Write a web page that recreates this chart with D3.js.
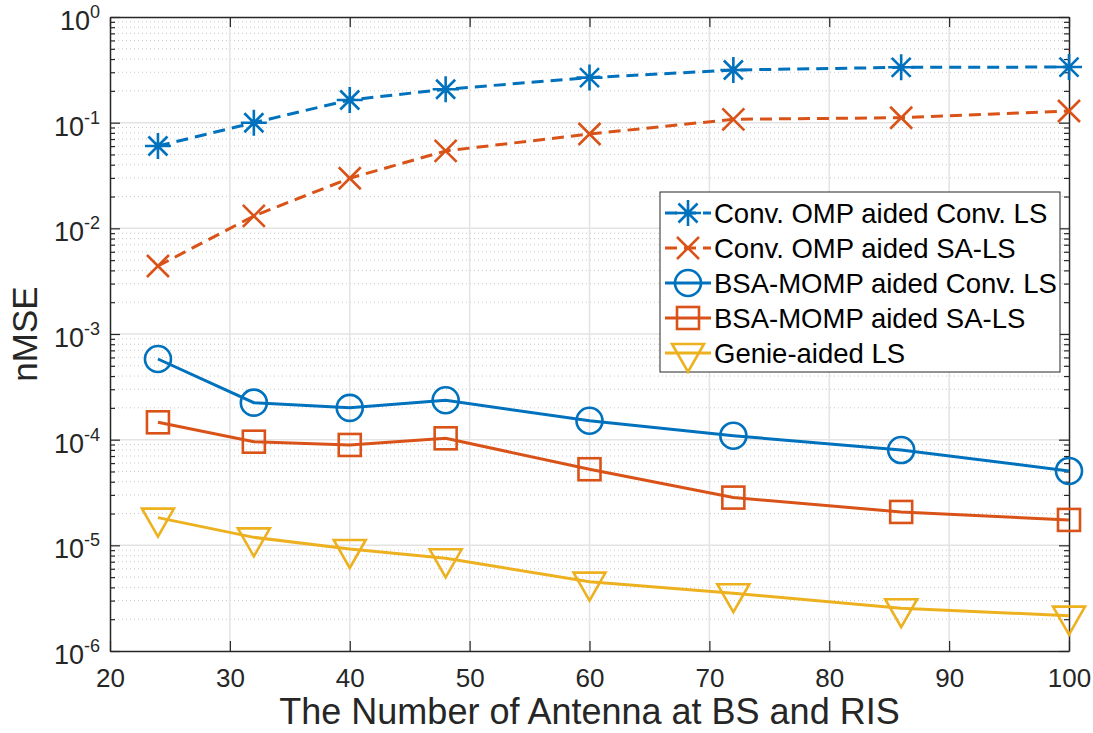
<!DOCTYPE html>
<html>
<head>
<meta charset="utf-8">
<script src="https://cdn.jsdelivr.net/npm/d3@7"></script>
<style>
  html, body { margin: 0; padding: 0; background: #fff; }
  svg { display: block; font-family: "Liberation Sans", Arial, Helvetica, sans-serif; }
</style>
</head>
<body>
<svg id="chart" width="1093" height="733"></svg>
<script>
// Number of antennas at the BS and RIS
const antennas = [24, 32, 40, 48, 60, 72, 86, 100];

// nMSE of each estimator
const convOmpConvLs = [0.0601, 0.0999, 0.164, 0.207, 0.267, 0.315, 0.334, 0.336];
const convOmpSaLs   = [0.0044, 0.0131, 0.0298, 0.054, 0.0781, 0.1076, 0.1114, 0.129];
const bsaMompConvLs = [5.80e-4, 2.24e-4, 2.00e-4, 2.36e-4, 1.51e-4, 1.09e-4, 7.98e-5, 5.06e-5];
const bsaMompSaLs   = [1.46e-4, 9.57e-5, 8.91e-5, 1.03e-4, 5.25e-5, 2.83e-5, 2.07e-5, 1.74e-5];
const genieLs       = [1.83e-5, 1.19e-5, 9.23e-6, 7.54e-6, 4.53e-6, 3.52e-6, 2.54e-6, 2.16e-6];

const seriesNames = [
  "Conv. OMP aided Conv. LS",
  "Conv. OMP aided SA-LS",
  "BSA-MOMP aided Conv. LS",
  "BSA-MOMP aided SA-LS",
  "Genie-aided LS"
];

// Axis ticks
const xTicks = [20, 30, 40, 50, 60, 70, 80, 90, 100];
const yExponents = [0, -1, -2, -3, -4, -5, -6];

const series = [
  { name: seriesNames[0], values: convOmpConvLs, color: "#0072BD", dashed: true,  marker: "star" },
  { name: seriesNames[1], values: convOmpSaLs,   color: "#D95319", dashed: true,  marker: "cross" },
  { name: seriesNames[2], values: bsaMompConvLs, color: "#0072BD", dashed: false, marker: "circle" },
  { name: seriesNames[3], values: bsaMompSaLs,   color: "#D95319", dashed: false, marker: "square" },
  { name: seriesNames[4], values: genieLs,       color: "#EDB120", dashed: false, marker: "triangle" }
];

const svg = d3.select("#chart");
const plot = { left: 110, right: 1069, top: 17, bottom: 651 };

const x = d3.scaleLinear().domain([20, 100]).range([plot.left, plot.right]);
const y = d3.scaleLog().domain([1e-6, 1]).range([plot.bottom, plot.top]);

const axisColor = "#262626";

// Minor decade values (2..9 x 10^k)
const minorVals = [];
for (let e = -6; e < 0; e++) {
  for (let m = 2; m <= 9; m++) minorVals.push(m * Math.pow(10, e));
}
const majorVals = yExponents.map(e => Math.pow(10, e));

// Grid
const grid = svg.append("g");
grid.selectAll("line.minor").data(minorVals).join("line")
  .attr("x1", plot.left).attr("x2", plot.right)
  .attr("y1", d => y(d)).attr("y2", d => y(d))
  .attr("stroke", "#c8c8c8").attr("stroke-width", 1)
  .attr("stroke-dasharray", "1,3");
grid.selectAll("line.majorY").data(majorVals.slice(1, -1)).join("line")
  .attr("x1", plot.left).attr("x2", plot.right)
  .attr("y1", d => y(d)).attr("y2", d => y(d))
  .attr("stroke", "#e3e3e3").attr("stroke-width", 1.5);
grid.selectAll("line.majorX").data(xTicks.slice(1, -1)).join("line")
  .attr("x1", d => x(d)).attr("x2", d => x(d))
  .attr("y1", plot.top).attr("y2", plot.bottom)
  .attr("stroke", "#e3e3e3").attr("stroke-width", 1.5);

// Axes (ticks point inward)
const xAxisBottom = d3.axisBottom(x).tickValues(xTicks).tickSizeInner(-10).tickSizeOuter(0).tickPadding(18);
const gxb = svg.append("g").attr("transform", `translate(0,${plot.bottom})`).call(xAxisBottom);
gxb.select(".domain").attr("stroke", axisColor).attr("stroke-width", 1.5);
gxb.selectAll(".tick line").attr("stroke", axisColor).attr("stroke-width", 1.2);
gxb.selectAll(".tick text").attr("fill", axisColor).attr("font-size", 26)
  .attr("font-family", "Liberation Sans, Arial, sans-serif");

const xAxisTop = d3.axisTop(x).tickValues(xTicks).tickSizeInner(-10).tickSizeOuter(0).tickFormat("");
const gxt = svg.append("g").attr("transform", `translate(0,${plot.top})`).call(xAxisTop);
gxt.select(".domain").attr("stroke", axisColor).attr("stroke-width", 1.5);
gxt.selectAll(".tick line").attr("stroke", axisColor).attr("stroke-width", 1.2);

function yAxisPair(axisFn, tx) {
  const major = axisFn(y).tickValues(majorVals).tickSizeInner(-10).tickSizeOuter(0).tickFormat("");
  const g = svg.append("g").attr("transform", `translate(${tx},0)`).call(major);
  g.select(".domain").attr("stroke", axisColor).attr("stroke-width", 1.5);
  g.selectAll(".tick line").attr("stroke", axisColor).attr("stroke-width", 1.2);
  const minor = axisFn(y).tickValues(minorVals).tickSizeInner(-5).tickSizeOuter(0).tickFormat("");
  const gm = svg.append("g").attr("transform", `translate(${tx},0)`).call(minor);
  gm.select(".domain").remove();
  gm.selectAll(".tick line").attr("stroke", axisColor).attr("stroke-width", 1.2);
  return g;
}
yAxisPair(d3.axisLeft, plot.left);
yAxisPair(d3.axisRight, plot.right);

// Y tick labels as 10^k
const yLab = svg.append("g").attr("fill", axisColor);
yExponents.forEach(e => {
  const t = yLab.append("text")
    .attr("x", 100).attr("y", y(Math.pow(10, e)) + 13)
    .attr("text-anchor", "end")
    .attr("font-size", 27);
  t.append("tspan").text("10");
  t.append("tspan").attr("dy", -12).attr("font-size", 18).text(String(e));
});

// Axis titles
svg.append("text")
  .attr("x", (plot.left + plot.right) / 2).attr("y", 724)
  .attr("text-anchor", "middle").attr("font-size", 36).attr("fill", axisColor)
  .text("The Number of Antenna at BS and RIS");
svg.append("text")
  .attr("transform", `translate(37,${(plot.top + plot.bottom) / 2}) rotate(-90)`)
  .attr("text-anchor", "middle").attr("font-size", 35).attr("fill", axisColor)
  .text("nMSE");

// Marker drawing
function drawMarker(g, type, color) {
  const sw = 2.6;
  if (type === "star") {
    const r = 13, d = 9.5;
    g.append("path").attr("d",
      `M${-r},0L${r},0M0,${-r}L0,${r}M${-d},${-d}L${d},${d}M${-d},${d}L${d},${-d}`)
      .attr("stroke", color).attr("stroke-width", sw).attr("fill", "none");
  } else if (type === "cross") {
    const d = 11;
    g.append("path").attr("d", `M${-d},${-d}L${d},${d}M${-d},${d}L${d},${-d}`)
      .attr("stroke", color).attr("stroke-width", sw).attr("fill", "none");
  } else if (type === "circle") {
    g.append("circle").attr("r", 13)
      .attr("stroke", color).attr("stroke-width", sw).attr("fill", "none");
  } else if (type === "square") {
    g.append("rect").attr("x", -11).attr("y", -11).attr("width", 22).attr("height", 22)
      .attr("stroke", color).attr("stroke-width", sw).attr("fill", "none");
  } else if (type === "triangle") {
    g.append("path").attr("d", "M-16,-9L16,-9L0,19Z")
      .attr("stroke", color).attr("stroke-width", sw).attr("fill", "none")
      .attr("stroke-linejoin", "miter");
  }
}

const line = d3.line().x(d => x(d[0])).y(d => y(d[1]));
const dataLayer = svg.append("g");
series.forEach(s => {
  const pts = antennas.map((a, i) => [a, s.values[i]]);
  dataLayer.append("path").datum(pts)
    .attr("d", line)
    .attr("fill", "none")
    .attr("stroke", s.color)
    .attr("stroke-width", 3)
    .attr("stroke-dasharray", s.dashed ? "12,7" : null);
  pts.forEach(p => {
    const g = dataLayer.append("g").attr("transform", `translate(${x(p[0])},${y(p[1])})`);
    drawMarker(g, s.marker, s.color);
  });
});

// Legend
const legend = svg.append("g");
legend.append("rect")
  .attr("x", 660).attr("y", 192).attr("width", 400).attr("height", 180)
  .attr("fill", "#fff").attr("stroke", "#262626").attr("stroke-width", 1);
series.forEach((s, i) => {
  const cy = 213 + i * 35;
  legend.append("line")
    .attr("x1", 665).attr("x2", 711).attr("y1", cy).attr("y2", cy)
    .attr("stroke", s.color).attr("stroke-width", 3)
    .attr("stroke-dasharray", s.dashed ? "12,7" : null);
  const g = legend.append("g").attr("transform", `translate(688,${cy})`);
  drawMarker(g, s.marker, s.color);
  legend.append("text")
    .attr("x", 714).attr("y", cy + 10)
    .attr("font-size", 27.5).attr("fill", "#000")
    .text(s.name);
});
</script>
</body>
</html>
